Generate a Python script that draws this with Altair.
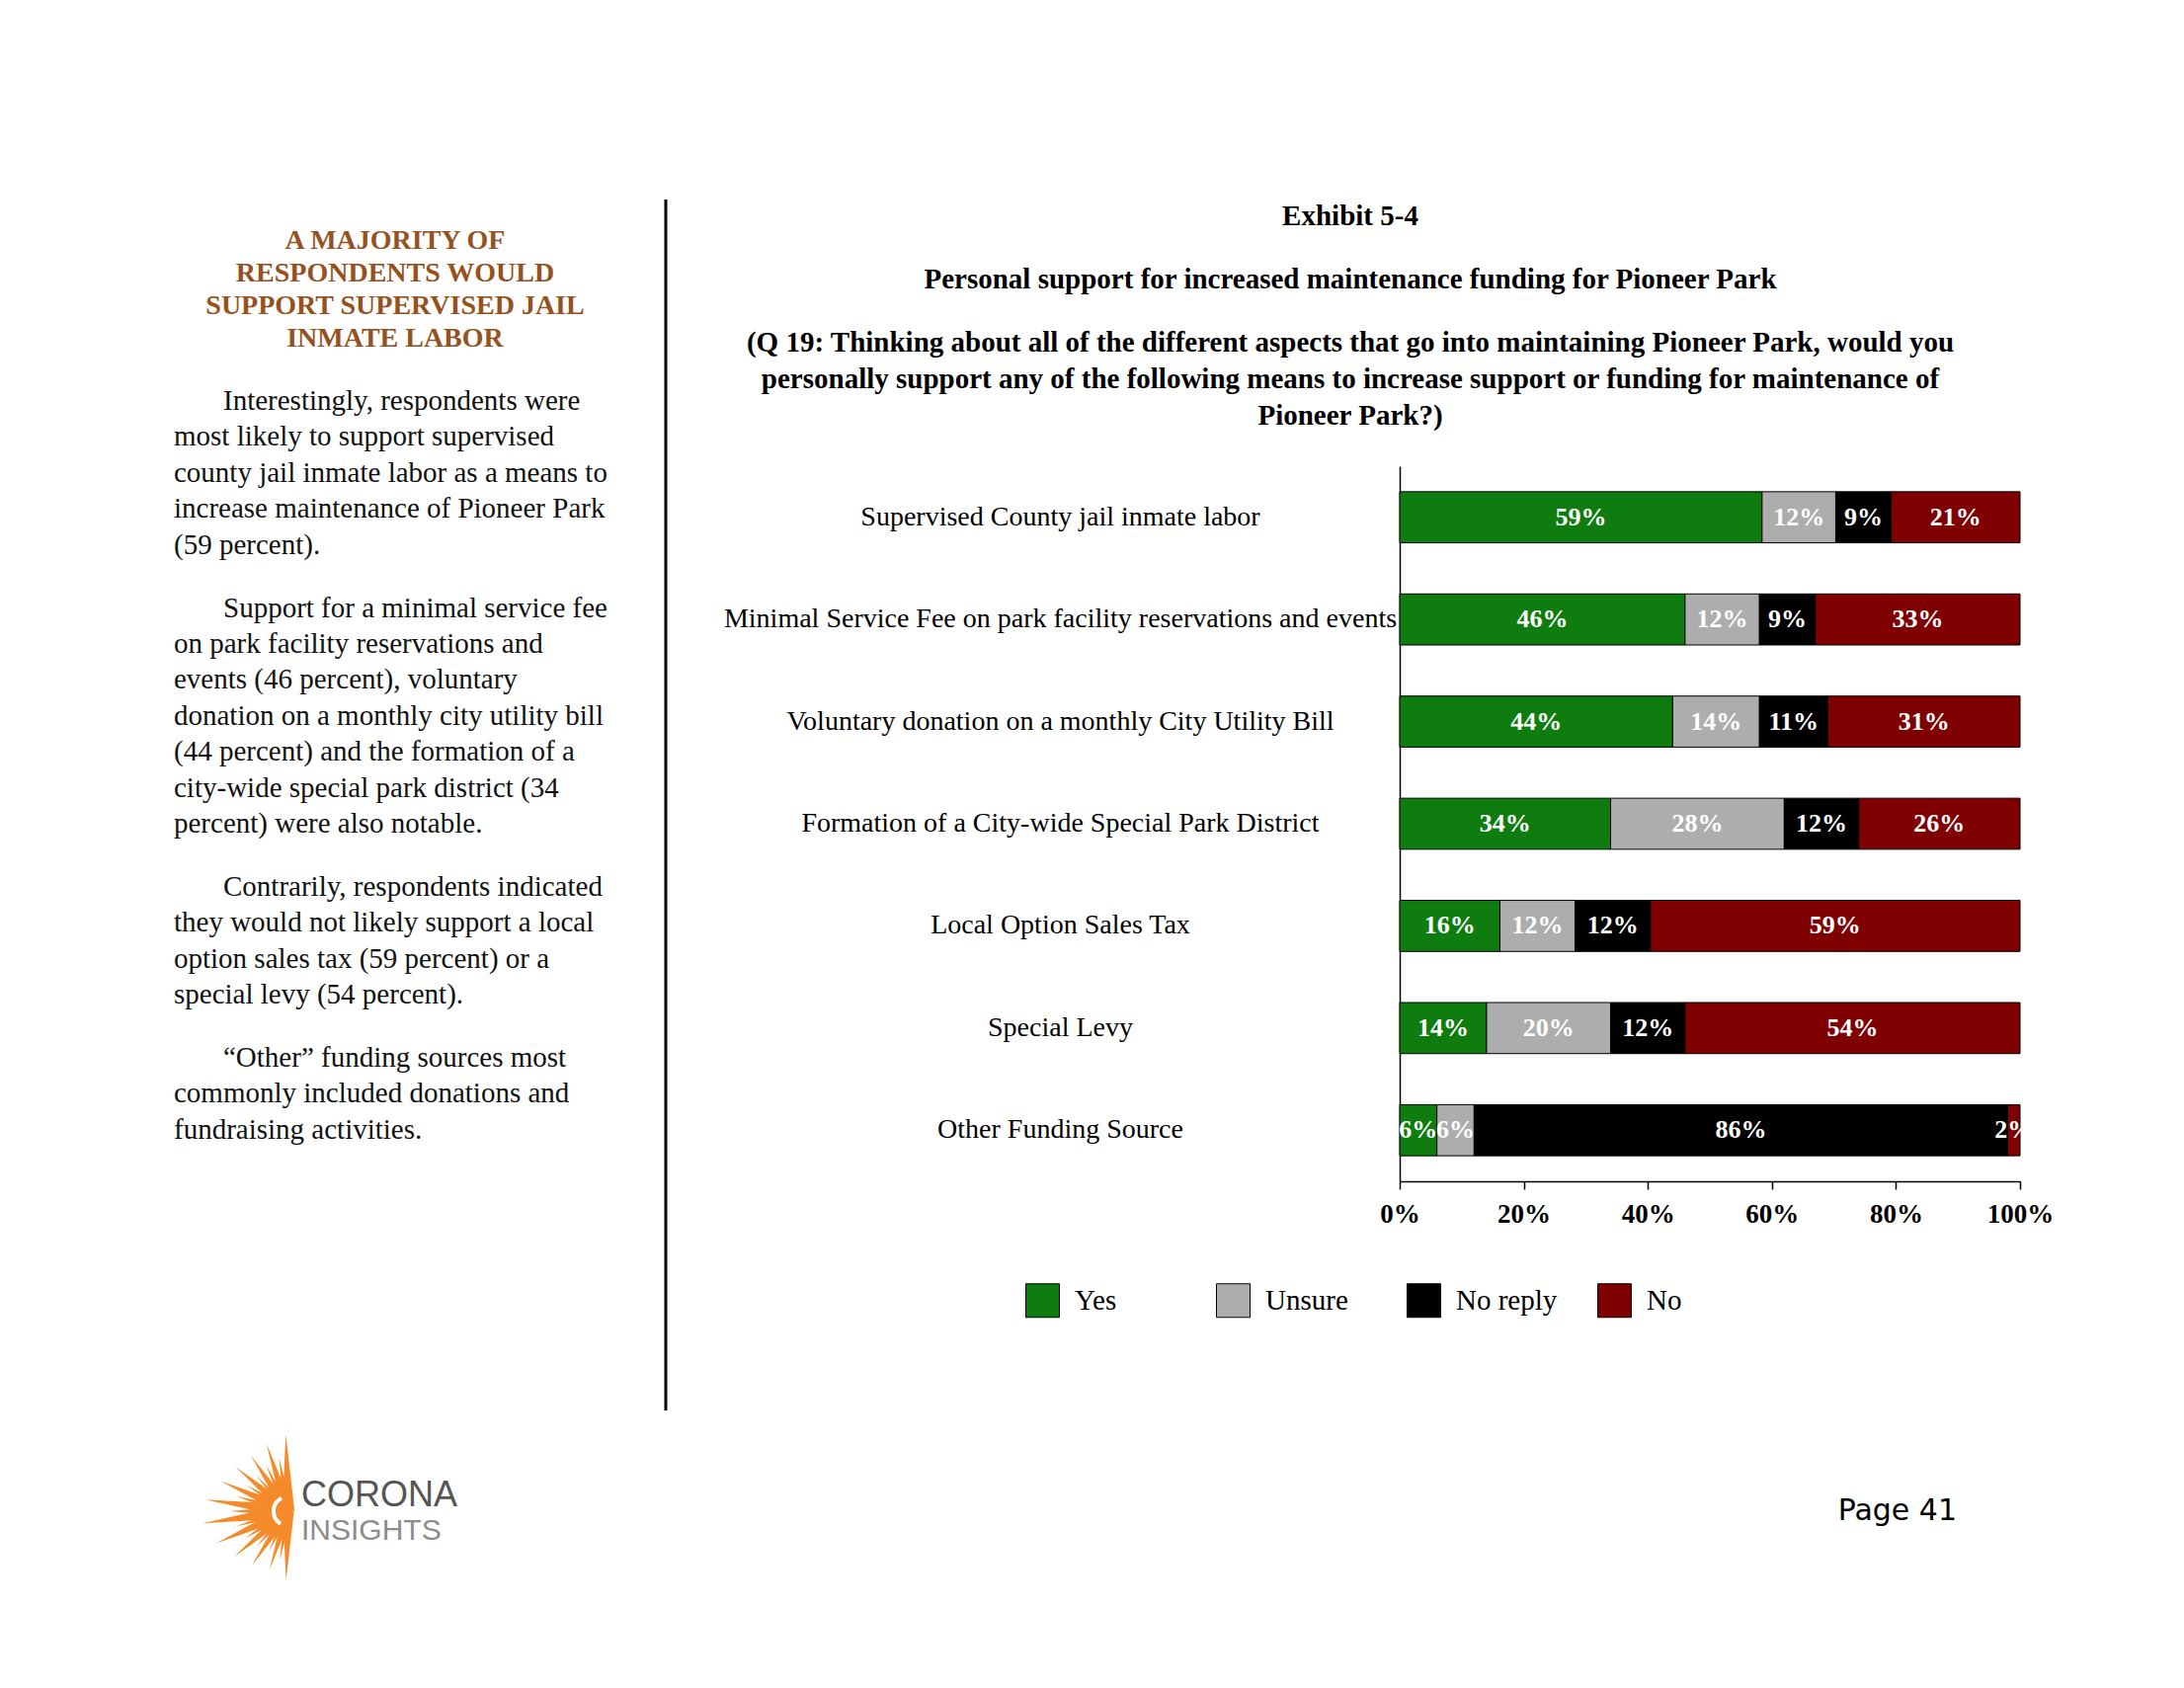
import altair as alt
import pandas as pd

# ---------------- data ----------------
categories = [
    "Supervised County jail inmate labor",
    "Minimal Service Fee on park facility reservations and events",
    "Voluntary donation on a monthly City Utility Bill",
    "Formation of a City-wide Special Park District",
    "Local Option Sales Tax",
    "Special Levy",
    "Other Funding Source",
]
responses = ["Yes", "Unsure", "No reply", "No"]
yes_pct = [59, 46, 44, 34, 16, 14, 6]
unsure_pct = [12, 12, 14, 28, 12, 20, 6]
noreply_pct = [9, 9, 11, 12, 12, 12, 86]
no_pct = [21, 33, 31, 26, 59, 54, 2]
colors = ["#0E7C0E", "#ADADAD", "#000000", "#7F0000"]

title_lines = ["Exhibit 5-4",
               "Personal support for increased maintenance funding for Pioneer Park"]
question_lines = [
    "(Q 19: Thinking about all of the different aspects that go into maintaining Pioneer Park, would you",
    "personally support any of the following means to increase support or funding for maintenance of",
    "Pioneer Park?)",
]
heading_lines = ["A MAJORITY OF", "RESPONDENTS WOULD", "SUPPORT SUPERVISED JAIL", "INMATE LABOR"]
paragraphs = [
    ["Interestingly, respondents were",
     "most likely to support supervised",
     "county jail inmate labor as a means to",
     "increase maintenance of Pioneer Park",
     "(59 percent)."],
    ["Support for a minimal service fee",
     "on park facility reservations and",
     "events (46 percent), voluntary",
     "donation on a monthly city utility bill",
     "(44 percent) and the formation of a",
     "city-wide special park district (34",
     "percent) were also notable."],
    ["Contrarily, respondents indicated",
     "they would not likely support a local",
     "option sales tax (59 percent) or a",
     "special levy (54 percent)."],
    ["\u201cOther\u201d funding sources most",
     "commonly included donations and",
     "fundraising activities."],
]
logo_words = ["CORONA", "INSIGHTS"]
page_label = ["Page 41"]
sun_ray_angles = [182, 190, 198, 206, 214, 222, 230, 238, 246, 254, 262, 270,
                  278, 286, 294, 302, 310, 318, 326, 334, 342, 350, 358]
sun_ray_lengths = [70, 50, 62, 45, 66, 48, 72, 52, 80, 55, 88, 60,
                   85, 55, 75, 50, 70, 48, 68, 52, 72, 55, 78]

# ---------------- tables ----------------
rows = []
for i, c in enumerate(categories):
    vals = [yes_pct[i], unsure_pct[i], noreply_pct[i], no_pct[i]]
    for j, r in enumerate(responses):
        rows.append({"item": c, "response": r, "order": j, "value": vals[j]})
df = pd.DataFrame(rows)

body_rows = []
k = 0
for p, para in enumerate(paragraphs):
    for li, line in enumerate(para):
        body_rows.append({"text": line, "para": p, "idx": k, "first": li == 0})
        k += 1
body_df = pd.DataFrame(body_rows)
head_df = pd.DataFrame({"text": heading_lines, "idx": list(range(len(heading_lines)))})
rays_df = pd.DataFrame({"a": sun_ray_angles, "len": sun_ray_lengths})

SERIF = "Liberation Serif"
W, H = 628, 724

# ---------------- main chart ----------------
y_enc = alt.Y(
    "item:N", sort=categories, title=None,
    scale=alt.Scale(paddingInner=0.5, paddingOuter=0.25),
    axis=alt.Axis(labelAlign="center", labelPadding=344, labelLimit=1000,
                  labelFontSize=28, labelFont=SERIF, labelColor="black",
                  ticks=False, tickSize=0, domainColor="black", domainWidth=1.5),
)
bars = alt.Chart(df).mark_bar(stroke="black", strokeWidth=1).encode(
    y=y_enc,
    x=alt.X("value:Q", stack="normalize", title=None,
            scale=alt.Scale(domain=[0, 1]),
            axis=alt.Axis(format="%", values=[0, 0.2, 0.4, 0.6, 0.8, 1.0],
                          labelFontSize=27, labelFont=SERIF, labelFontWeight="bold",
                          labelColor="black", labelFlush=False, labelPadding=12,
                          tickColor="black", tickSize=8, tickWidth=1.5,
                          domainColor="black", domainWidth=1.5, grid=False)),
    color=alt.Color("response:N", sort=responses,
                    scale=alt.Scale(domain=responses, range=colors),
                    legend=alt.Legend(title=None, orient="none", legendX=-379, legendY=827,
                                      direction="horizontal", columns=4, gridAlign="all",
                                      columnPadding=38, symbolType="square", symbolSize=1156,
                                      symbolStrokeColor="black", symbolStrokeWidth=1,
                                      labelFontSize=29, labelFont=SERIF, labelColor="black",
                                      labelOffset=15, padding=0, symbolOpacity=1)),
    order=alt.Order("order:Q", sort="ascending"),
)

labels = alt.Chart(df).transform_joinaggregate(
    total="sum(value)", groupby=["item"]
).transform_window(
    cum="sum(value)", groupby=["item"],
    sort=[alt.SortField("order", order="ascending")], frame=[None, 0]
).transform_calculate(
    mid="(datum.cum - datum.value / 2) / datum.total",
    label="datum.value + '%'",
).mark_text(color="white", fontWeight="bold", fontSize=26, font=SERIF, baseline="middle").encode(
    y=alt.Y("item:N", sort=categories),
    x=alt.X("mid:Q"),
    text="label:N",
)

# ---------------- page annotations ----------------
heading = alt.Chart(head_df).transform_calculate(
    px="-1017", py="-228 + datum.idx * 33"
).mark_text(font=SERIF, fontSize=28, fontWeight="bold", color="#955220",
            align="center", baseline="middle").encode(
    x=alt.X("px:Q", scale=None, axis=None),
    y=alt.Y("py:Q", scale=None, axis=None),
    text="text:N",
)

body = alt.Chart(body_df).transform_calculate(
    px="datum.first ? -1191 : -1241",
    py="-66 + datum.idx * 36.4 + datum.para * 27.5",
).mark_text(font=SERIF, fontSize=29, color="#111111",
            align="left", baseline="middle").encode(
    x=alt.X("px:Q", scale=None, axis=None),
    y=alt.Y("py:Q", scale=None, axis=None),
    text="text:N",
)

divider = alt.Chart(pd.DataFrame({"t": [0]})).mark_rule(color="black", strokeWidth=3).encode(
    x=alt.value(-743), y=alt.value(-270), y2=alt.value(956)
)

rays = alt.Chart(rays_df).transform_calculate(
    s="pow(2 * datum.len, 2)"
).mark_point(shape="M-0.08,0L0,-1L0.08,0Z", filled=True, color="#F58A2A", opacity=1).encode(
    x=alt.value(-1125), y=alt.value(1058),
    angle=alt.Angle("a:Q", scale=None),
    size=alt.Size("s:Q", scale=None),
)
disc = alt.Chart(pd.DataFrame({"t": [0]})).mark_arc(
    theta=3.1416, theta2=6.2832, outerRadius=25, color="#F58A2A"
).encode(x=alt.value(-1125), y=alt.value(1058))
inner_c = alt.Chart(pd.DataFrame({"t": [0]})).mark_arc(
    theta=3.7, theta2=5.8, innerRadius=13, outerRadius=17, color="white"
).encode(x=alt.value(-1125), y=alt.value(1058))

corona = alt.Chart(pd.DataFrame({"t": [logo_words[0]]})).mark_text(
    font="Liberation Sans", fontSize=36, color="#555555", align="left", baseline="middle"
).encode(x=alt.value(-1112), y=alt.value(1042), text="t:N")
insights = alt.Chart(pd.DataFrame({"t": [logo_words[1]]})).mark_text(
    font="Liberation Sans", fontSize=30, color="#8C8C8C", align="left", baseline="middle"
).encode(x=alt.value(-1112), y=alt.value(1078), text="t:N")
page = alt.Chart(pd.DataFrame({"t": page_label})).mark_text(
    font="DejaVu Sans", fontSize=30, color="black", align="right", baseline="alphabetic"
).encode(x=alt.value(564), y=alt.value(1067), text="t:N")

chart = alt.layer(
    bars, labels, heading, body, divider, rays, disc, inner_c, corona, insights, page
).properties(
    width=W, height=H,
    autosize=alt.AutoSizeParams(type="none"),
    padding={"left": 1409, "top": 464, "right": 150, "bottom": 490},
    title=alt.Title(
        text=title_lines, subtitle=question_lines,
        anchor="middle", frame="group", dx=-364,
        font=SERIF, subtitleFont=SERIF, fontSize=29, subtitleFontSize=29,
        fontWeight="bold", subtitleFontWeight="bold",
        color="black", subtitleColor="black",
        lineHeight=64, subtitleLineHeight=37, subtitlePadding=35, offset=-235,
    ),
).configure(background="white").configure_view(stroke=None)

chart.save("out.html", embed_options={"renderer": "svg", "actions": False})
